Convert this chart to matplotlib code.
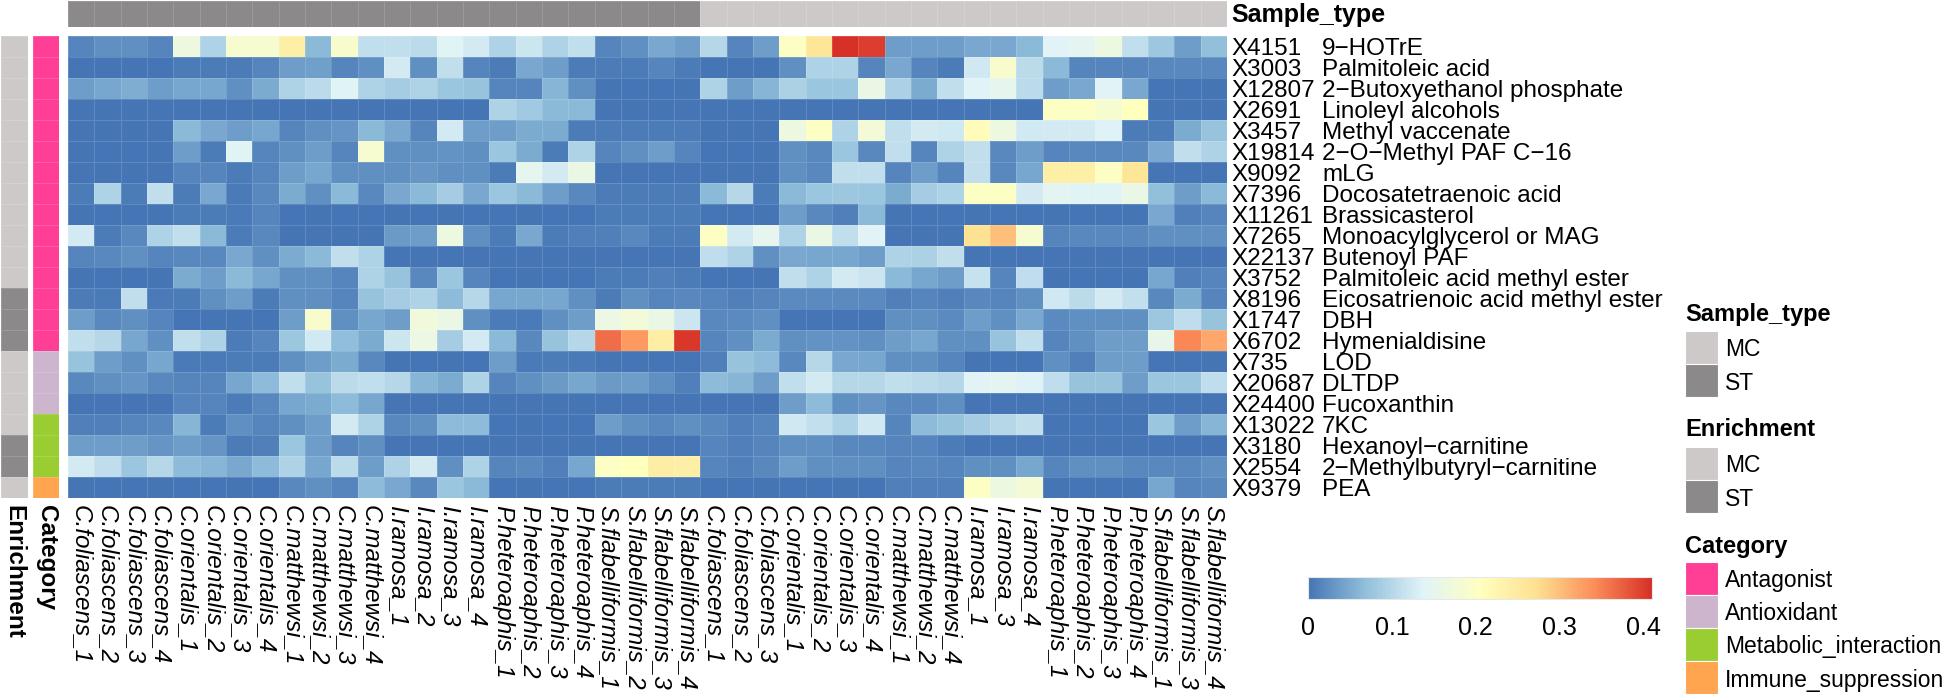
import numpy as np
import matplotlib
matplotlib.use('Agg')
import matplotlib.pyplot as plt
import matplotlib.transforms as mtransforms
from matplotlib.colors import LinearSegmentedColormap, ListedColormap, Normalize
from matplotlib.cm import ScalarMappable
from matplotlib.patches import Rectangle

plt.rcParams['font.family'] = ['Liberation Sans', 'DejaVu Sans']

# ---- data -------------------------------------------------------------
cols = ['C.foliascens_1', 'C.foliascens_2', 'C.foliascens_3', 'C.foliascens_4',
        'C.orientalis_1', 'C.orientalis_2', 'C.orientalis_3', 'C.orientalis_4',
        'C.matthewsi_1', 'C.matthewsi_2', 'C.matthewsi_3', 'C.matthewsi_4',
        'I.ramosa_1', 'I.ramosa_2', 'I.ramosa_3', 'I.ramosa_4',
        'P.heteroaphis_1', 'P.heteroaphis_2', 'P.heteroaphis_3', 'P.heteroaphis_4',
        'S.flabelliformis_1', 'S.flabelliformis_2', 'S.flabelliformis_3', 'S.flabelliformis_4',
        'C.foliascens_1', 'C.foliascens_2', 'C.foliascens_3',
        'C.orientalis_1', 'C.orientalis_2', 'C.orientalis_3', 'C.orientalis_4',
        'C.matthewsi_1', 'C.matthewsi_2', 'C.matthewsi_4',
        'I.ramosa_1', 'I.ramosa_3', 'I.ramosa_4',
        'P.heteroaphis_1', 'P.heteroaphis_2', 'P.heteroaphis_3', 'P.heteroaphis_4',
        'S.flabelliformis_1', 'S.flabelliformis_3', 'S.flabelliformis_4']

sample_type = ['ST'] * 24 + ['MC'] * 20

row_ids = ['X4151', 'X3003', 'X12807', 'X2691', 'X3457', 'X19814', 'X9092', 'X7396',
           'X11261', 'X7265', 'X22137', 'X3752', 'X8196', 'X1747', 'X6702', 'X735',
           'X20687', 'X24400', 'X13022', 'X3180', 'X2554', 'X9379']
row_names = ['9−HOTrE', 'Palmitoleic acid', '2−Butoxyethanol phosphate', 'Linoleyl alcohols',
             'Methyl vaccenate', '2−O−Methyl PAF C−16', 'mLG', 'Docosatetraenoic acid',
             'Brassicasterol', 'Monoacylglycerol or MAG', 'Butenoyl PAF',
             'Palmitoleic acid methyl ester', 'Eicosatrienoic acid methyl ester', 'DBH',
             'Hymenialdisine', 'LOD', 'DLTDP', 'Fucoxanthin', '7KC', 'Hexanoyl−carnitine',
             '2−Methylbutyryl−carnitine', 'PEA']

enrichment = ['MC'] * 12 + ['ST'] * 3 + ['MC'] * 4 + ['ST'] * 2 + ['MC']
category = (['Antagonist'] * 15 + ['Antioxidant'] * 3 +
            ['Metabolic_interaction'] * 3 + ['Immune_suppression'])

x4151 = [.015, .025, .025, .015, .167, .094, .185, .185, .24, .063, .19,
         .11, .11, .105, .14, .126, .094, .12, .094, .11, .015, .025,
         .048, .037, .1, .015, .037, .2, .26, .41, .40, .037, .037,
         .037, .048, .048, .063, .138, .145, .165, .11, .08, .037, .07]
x3003 = [0, 0, 0, 0, .008, .008, .008, .015, .037, .04, .015,
         .025, .126, .025, .11, .015, .008, .048, .037, .008, .008, .008,
         .015, .008, 0, 0, 0, .025, .094, .094, .015, .048, .015,
         .008, .122, .19, .105, .063, .015, .015, .015, .018, .018, .018]
x12807 = [.037, .045, .052, .037, .045, .045, .025, .05, .094, .105, .14,
          .094, .085, .094, .078, .075, .015, .015, .06, .025, 0, 0,
          0, 0, .094, .037, .06, .092, .078, .078, .16, .092, .05,
          .11, .138, .15, .105, .037, .048, .138, .048, 0, 0, 0]
x2691 = [0, 0, 0, 0, 0, 0, 0, 0, 0, 0, 0,
         0, 0, 0, 0, 0, .094, .082, .063, .063, 0, 0,
         0, 0, 0, 0, 0, 0, 0, 0, 0, 0, 0,
         0, 0, 0, 0, .2, .2, .185, .205, 0, 0, 0]
x3457 = [0, 0, 0, 0, .063, .048, .037, .045, .015, .025, .03,
         .063, .048, .015, .126, .037, .037, .05, .05, .008, .008, .008,
         .008, .008, 0, 0, 0, .165, .2, .094, .175, .11, .126,
         .122, .21, .165, .124, .126, .126, .135, .008, .008, .05, .075]
x19814 = [0, 0, 0, 0, .037, .008, .14, .015, .025, .037, .015,
          .185, .025, .025, .028, .025, .078, .05, .008, .094, .015, .025,
          .037, .015, 0, 0, 0, .025, .018, .078, .018, .11, .015,
          .094, .11, .018, .037, .015, .018, .018, .018, .048, .11, .094]
x9092 = [0, 0, 0, 0, .015, .015, .008, .015, .037, .045, .025,
         .025, .025, .032, .025, .025, .008, .15, .126, .16, 0, 0,
         0, 0, 0, 0, 0, .025, .018, .11, .11, .015, .037,
         .015, .11, .018, .045, .24, .24, .2, .26, 0, 0, 0]
x7396 = [.008, .094, .008, .11, .008, .048, .006, .018, .05, .025, .063,
         .018, .048, .063, .085, .048, .078, .063, .037, .018, .008, .008,
         .008, .008, .063, .1, .008, .063, .078, .08, .078, .05, .085,
         .094, .2, .2, .126, .145, .14, .14, .16, .07, .037, .063]
x11261 = [0, 0, 0, 0, .008, .008, .006, .015, 0, 0, 0,
          0, 0, 0, 0, 0, 0, 0, 0, 0, .008, .008,
          .008, .008, 0, 0, 0, .037, .018, .01, .063, 0, 0,
          0, 0, 0, 0, 0, 0, 0, 0, .048, .01, .015]
x7265 = [.126, .008, .018, .094, .11, .063, .008, .018, 0, 0, 0,
         0, .035, .037, .165, .025, .008, .048, .008, .01, .01, .018,
         .008, .008, .2, .126, .15, .094, .16, .11, .138, 0, 0,
         0, .268, .30, .185, .015, .018, .018, .018, .025, .025, .025]
x22137 = [.015, .018, .025, .015, .018, .018, .048, .025, .05, .063, .11,
          .094, 0, 0, 0, 0, 0, 0, 0, 0, 0, 0,
          0, 0, .108, .094, .025, .048, .045, .045, .037, .094, .092,
          .11, 0, 0, 0, 0, 0, 0, 0, 0, 0, 0]
x3752 = [0, 0, 0, 0, .05, .037, .063, .045, .025, .025, .015,
         .094, .075, .018, .078, .015, 0, 0, 0, 0, .008, .008,
         .01, .008, 0, 0, 0, .11, .094, .126, .118, .063, .045,
         .037, .115, .015, .108, 0, 0, 0, 0, .045, .01, .015]
x8196 = [.008, .006, .11, .006, .008, .025, .037, .008, .025, .025, .015,
         .075, .085, .094, .065, .1, .045, .045, .045, .025, .008, .025,
         .015, .018, .015, .01, .015, .02, .02, .02, .02, .01, .015,
         .01, .018, .015, .025, .122, .105, .126, .112, .018, .05, .015]
x1747 = [.037, .018, .025, .015, 0, 0, 0, 0, .037, .19, .025,
         .045, .037, .172, .16, .025, .008, .006, .025, .037, .163, .175,
         .16, .12, .018, .02, .025, 0, 0, 0, 0, .025, .025,
         .02, .037, .025, .048, .02, .025, .025, .025, .08, .108, .075]
x6702 = [.11, .1, .045, .025, .11, .094, .008, .015, .08, .124, .068,
         .05, .12, .163, .085, .126, .063, .018, .075, .1, .365, .33,
         .245, .405, .015, .025, .05, .025, .028, .028, .025, .037, .045,
         .025, .025, .075, .11, .015, .025, .037, .037, .155, .345, .32]
x735 = [.075, .037, .025, .045, .006, .006, .008, .008, .025, .037, .05,
        .018, 0, 0, 0, 0, .037, .006, .008, .006, 0, 0,
        0, 0, .01, .075, .065, .018, .1, .048, .045, .025, .025,
        .015, 0, 0, 0, .025, .01, .037, .037, 0, 0, 0]
x20687 = [.018, .025, .03, .018, .015, .015, .045, .065, .11, .075, .105,
          .11, .1, .06, .05, .094, .015, .025, .035, .045, .035, .037,
          .025, .01, .065, .06, .037, .11, .126, .1, .1, .11, .105,
          .1, .138, .145, .135, .108, .075, .075, .037, .078, .078, .108]
x24400 = [0, 0, 0, 0, .015, .015, .008, .018, .045, .05, .065,
          .045, 0, 0, 0, 0, 0, 0, 0, 0, 0, 0,
          0, 0, 0, 0, 0, .037, .065, .025, .03, .018, .018,
          .025, 0, 0, 0, 0, 0, 0, 0, 0, 0, 0]
x13022 = [.01, .01, .015, .018, .06, .008, .025, .015, .025, .037, .126,
          .094, .018, .025, .065, .065, 0, 0, 0, 0, .037, .025,
          .018, .025, .018, .01, .015, .122, .112, .094, .122, .015, .065,
          .075, .085, .1, .11, 0, 0, 0, 0, .078, .037, .06]
x3180 = [.037, .037, .037, .03, .037, .03, .008, .01, .078, .037, .015,
         .025, 0, 0, 0, 0, 0, 0, 0, 0, 0, 0,
         0, 0, .015, .01, .015, .025, .025, .018, .018, .015, .015,
         .008, 0, 0, 0, 0, 0, 0, 0, 0, 0, 0]
x2554 = [.126, .108, .078, .1, .065, .06, .048, .065, .094, .045, .105,
         .037, .094, .126, .025, .094, .015, .018, .01, .045, .2, .205,
         .245, .24, .015, .01, .018, .037, .025, .025, .025, .015, .018,
         .015, .025, .025, .045, .015, .025, .025, .018, .018, .018, .025]
x9379 = [0, 0, 0, 0, 0, 0, 0, 0, .018, .025, .015,
         .065, .048, .018, .078, .063, 0, 0, 0, 0, .008, .008,
         .008, .008, 0, 0, 0, 0, 0, 0, 0, .01, .01,
         .01, .2, .165, .18, 0, 0, 0, 0, .045, .015, .018]

rows = [x4151, x3003, x12807, x2691, x3457, x19814, x9092, x7396, x11261, x7265, x22137,
        x3752, x8196, x1747, x6702, x735, x20687, x24400, x13022, x3180, x2554, x9379]

# ---- styling ----------------------------------------------------------
type_colors = {'MC': '#CDC9C9', 'ST': '#8B8989'}
cat_colors = {'Antagonist': '#FF3E96', 'Antioxidant': '#CDB5CD',
              'Metabolic_interaction': '#9ACD32', 'Immune_suppression': '#FFA54F'}
cmap = LinearSegmentedColormap.from_list(
    'rdylbu_r', ['#4575B4', '#91BFDB', '#E0F3F8', '#FFFFBF', '#FEE090', '#FC8D59', '#D73027'])
norm = Normalize(0, 0.41)
grid = dict(edgecolors=(1, 1, 1, 0.15), linewidth=0.5)

W, H = 1943, 696
fig = plt.figure(figsize=(W / 100, H / 100), dpi=100)


def frame(x0, y0, x1, y1):
    return [x0 / W, 1 - y1 / H, (x1 - x0) / W, (y1 - y0) / H]


# main heatmap
mat = np.array(rows)
ax = fig.add_axes(frame(68, 35.7, 1227, 498))
ax.pcolormesh(mat, cmap=cmap, norm=norm, **grid)
ax.set_xlim(0, len(cols))
ax.set_ylim(len(rows), 0)
ax.set_xticks(np.arange(len(cols)) + 0.5)
ax.set_xticklabels(cols, rotation=270, fontstyle='italic', fontsize=17.5, ha='center', va='top')
ax.tick_params(axis='x', length=0, pad=5)
ax.set_yticks([])
for s in ax.spines.values():
    s.set_visible(False)

trans = mtransforms.blended_transform_factory(fig.transFigure, ax.transData)
for i, (rid, name) in enumerate(zip(row_ids, row_names)):
    ax.text(1231 / W, i + 0.5, rid, transform=trans, ha='left', va='center_baseline', fontsize=17.5)
    ax.text(1322 / W, i + 0.5, name, transform=trans, ha='left', va='center_baseline', fontsize=17.5)

# top annotation
type_list = ['MC', 'ST']
ax_t = fig.add_axes(frame(68, 1, 1227, 27))
ax_t.pcolormesh(np.array([[type_list.index(t) for t in sample_type]]),
                cmap=ListedColormap([type_colors[t] for t in type_list]), vmin=0, vmax=1, **grid)
ax_t.set_xlim(0, len(cols))
ax_t.axis('off')
fig.text(1231 / W, 1 - 15 / H, 'Sample_type', fontweight='bold', fontsize=18, va='center')

# left annotations
ax_e = fig.add_axes(frame(0.5, 35.7, 27.5, 498))
ax_e.pcolormesh(np.array([[type_list.index(t)] for t in enrichment]),
                cmap=ListedColormap([type_colors[t] for t in type_list]), vmin=0, vmax=1, **grid)
ax_e.set_ylim(len(rows), 0)
ax_e.axis('off')

cat_list = list(cat_colors)
ax_c = fig.add_axes(frame(33, 35.7, 59, 498))
ax_c.pcolormesh(np.array([[cat_list.index(c)] for c in category]),
                cmap=ListedColormap([cat_colors[c] for c in cat_list]), vmin=0, vmax=3, **grid)
ax_c.set_ylim(len(rows), 0)
ax_c.axis('off')

fig.text(14 / W, 1 - 505 / H, 'Enrichment', rotation=270, fontweight='bold', fontsize=17.5,
         ha='center', va='top')
fig.text(46 / W, 1 - 505 / H, 'Category', rotation=270, fontweight='bold', fontsize=17.5,
         ha='center', va='top')

# colour bar
cax = fig.add_axes(frame(1308, 577, 1652, 599))
cb = fig.colorbar(ScalarMappable(norm=norm, cmap=cmap), cax=cax, orientation='horizontal',
                  ticks=[0, 0.1, 0.2, 0.3, 0.4])
cb.ax.set_xticklabels(['0', '0.1', '0.2', '0.3', '0.4'])
cb.ax.tick_params(length=0, pad=12, labelsize=18)
cb.outline.set_edgecolor('#e8e8e8')


# legends
def legend_block(title, title_y, labels, colors, top):
    fig.text(1685 / W, 1 - title_y / H, title, fontweight='bold', fontsize=17, va='center')
    for k, (lab, col) in enumerate(zip(labels, colors)):
        y0 = top + k * 33
        fig.add_artist(Rectangle((1685 / W, 1 - (y0 + 33) / H), 33 / W, 33 / H,
                                 transform=fig.transFigure, facecolor=col,
                                 edgecolor='white', lw=0.8))
        fig.text(1725 / W, 1 - (y0 + 16.5) / H, lab, fontsize=16.5, va='center_baseline')


legend_block('Sample_type', 315, type_list, [type_colors[t] for t in type_list], 331)
legend_block('Enrichment', 430, type_list, [type_colors[t] for t in type_list], 447)
legend_block('Category', 547, cat_list, [cat_colors[c] for c in cat_list], 562)

fig.savefig('out.png', dpi=100)
